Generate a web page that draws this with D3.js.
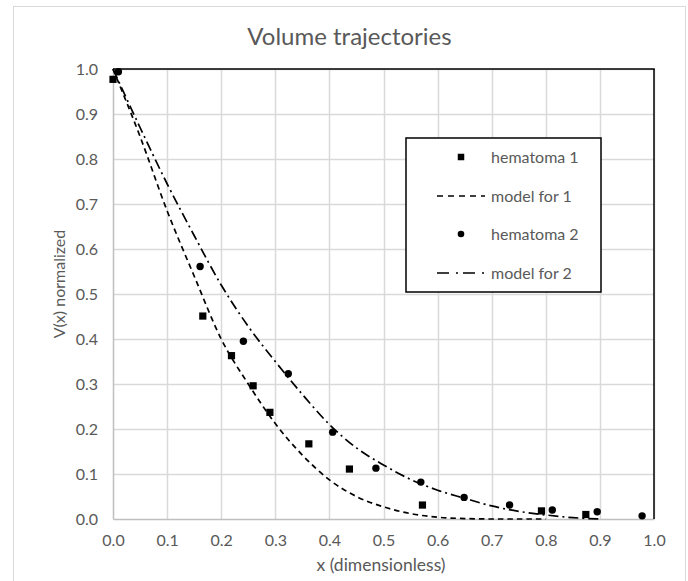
<!DOCTYPE html>
<html>
<head>
<meta charset="utf-8">
<script src="https://cdn.jsdelivr.net/npm/d3@7"></script>
<style>
  html, body { margin: 0; padding: 0; background: #ffffff; }
  svg { display: block; }
  text { font-family: Lato, "Open Sans", sans-serif; fill: #595959; }
</style>
</head>
<body>
<svg id="chart" width="688" height="581"></svg>
<script>
// ---- data ----
const chartTitle = "Volume trajectories";
const xAxisTitle = "x (dimensionless)";
const yAxisTitle = "V(x) normalized";
const xTicks = [0, 0.1, 0.2, 0.3, 0.4, 0.5, 0.6, 0.7, 0.8, 0.9, 1.0];
const yTicks = [0, 0.1, 0.2, 0.3, 0.4, 0.5, 0.6, 0.7, 0.8, 0.9, 1.0];

const hem1X = [0.000, 0.166, 0.219, 0.259, 0.290, 0.362, 0.437, 0.572, 0.792, 0.874];
const hem1Y = [0.977, 0.451, 0.363, 0.296, 0.237, 0.167, 0.111, 0.031, 0.018, 0.010];

const hem2X = [0.010, 0.161, 0.241, 0.324, 0.406, 0.486, 0.569, 0.649, 0.733, 0.812, 0.895, 0.978];
const hem2Y = [0.994, 0.561, 0.395, 0.323, 0.193, 0.113, 0.082, 0.048, 0.031, 0.020, 0.016, 0.007];

const model1X = [0.00, 0.05, 0.10, 0.15, 0.20, 0.25, 0.30, 0.35, 0.40, 0.45, 0.50, 0.55, 0.60, 0.65, 0.70, 0.75, 0.80];
const model1Y = [1.000, 0.850, 0.685, 0.540, 0.400, 0.300, 0.212, 0.142, 0.087, 0.050, 0.027, 0.012, 0.004, 0.001, 0.000, 0.000, 0.000];

const model2X = [0.00, 0.05, 0.10, 0.15, 0.20, 0.25, 0.30, 0.35, 0.40, 0.45, 0.50, 0.55, 0.60, 0.65, 0.70, 0.75, 0.80, 0.85, 0.90];
const model2Y = [1.000, 0.870, 0.745, 0.630, 0.520, 0.428, 0.350, 0.277, 0.210, 0.158, 0.120, 0.088, 0.064, 0.046, 0.029, 0.017, 0.009, 0.003, 0.000];

const legendLabels = ["hematoma 1", "model for 1", "hematoma 2", "model for 2"];

// ---- drawing ----
const svg = d3.select("#chart");
const plot = { left: 113, right: 654, top: 69, bottom: 519 };

const x = d3.scaleLinear().domain([0, 1]).range([plot.left, plot.right]);
const y = d3.scaleLinear().domain([0, 1]).range([plot.bottom, plot.top]);

// outer chart border
svg.append("rect")
  .attr("x", 13.5).attr("y", 6.5)
  .attr("width", 672).attr("height", 600)
  .attr("fill", "none").attr("stroke", "#d9d9d9").attr("stroke-width", 1);

// title
svg.append("text")
  .attr("x", 349.5).attr("y", 45)
  .attr("text-anchor", "middle")
  .style("font-size", "24px")
  .text(chartTitle);

// gridlines
const grid = svg.append("g");
grid.selectAll("line.v").data(xTicks.slice(1)).enter().append("line")
  .attr("x1", d => Math.round(x(d)) + 0.5).attr("x2", d => Math.round(x(d)) + 0.5)
  .attr("y1", plot.top).attr("y2", plot.bottom)
  .attr("stroke", "#d9d9d9").attr("stroke-width", 1.5);
grid.selectAll("line.h").data(yTicks.slice(1)).enter().append("line")
  .attr("x1", plot.left).attr("x2", plot.right)
  .attr("y1", d => Math.round(y(d)) + 0.5).attr("y2", d => Math.round(y(d)) + 0.5)
  .attr("stroke", "#d9d9d9").attr("stroke-width", 1.5);

// axes using d3 axis generators (no tick marks)
const xAxis = d3.axisBottom(x).tickValues(xTicks).tickFormat(d3.format(".1f")).tickSize(0).tickPadding(12);
const yAxis = d3.axisLeft(y).tickValues(yTicks).tickFormat(d3.format(".1f")).tickSize(0).tickPadding(15);

const gx = svg.append("g").attr("transform", `translate(0,${plot.bottom})`).call(xAxis);
gx.select(".domain").attr("stroke", "#bfbfbf").attr("stroke-width", 1.5);
gx.selectAll("text").style("font-size", "16px").attr("fill", "#595959").attr("dy", "0.95em");

const gy = svg.append("g").attr("transform", `translate(${plot.left},0)`).call(yAxis);
gy.select(".domain").attr("stroke", "#bfbfbf").attr("stroke-width", 1.5);
gy.selectAll("text").style("font-size", "16px").attr("fill", "#595959");

// plot border top and right (black)
svg.append("line").attr("x1", plot.left).attr("x2", plot.right + 0.75)
  .attr("y1", plot.top).attr("y2", plot.top).attr("stroke", "#000").attr("stroke-width", 1.5);
svg.append("line").attr("x1", plot.right).attr("x2", plot.right)
  .attr("y1", plot.top).attr("y2", plot.bottom).attr("stroke", "#000").attr("stroke-width", 1.5);

// axis titles
svg.append("text")
  .attr("x", 381).attr("y", 571)
  .attr("text-anchor", "middle")
  .style("font-size", "17.5px")
  .text(xAxisTitle);
svg.append("text")
  .attr("transform", "translate(65,284) rotate(-90)")
  .attr("text-anchor", "middle")
  .style("font-size", "16px")
  .text(yAxisTitle);

// model curves
const lineGen = d3.line().x(d => x(d[0])).y(d => y(d[1])).curve(d3.curveMonotoneX);
const model1 = model1X.map((v, i) => [v, model1Y[i]]);
const model2 = model2X.map((v, i) => [v, model2Y[i]]);

svg.append("path").datum(model1).attr("d", lineGen)
  .attr("fill", "none").attr("stroke", "#000").attr("stroke-width", 1.7)
  .attr("stroke-dasharray", "5.5,4");
svg.append("path").datum(model2).attr("d", lineGen)
  .attr("fill", "none").attr("stroke", "#000").attr("stroke-width", 1.7)
  .attr("stroke-dasharray", "10,4,2,4");

// markers
const sq = 7.2, cr = 3.7;
svg.append("g").selectAll("rect").data(hem1X.map((v, i) => [v, hem1Y[i]])).enter().append("rect")
  .attr("x", d => x(d[0]) - sq / 2).attr("y", d => y(d[1]) - sq / 2)
  .attr("width", sq).attr("height", sq).attr("fill", "#000");
svg.append("g").selectAll("circle").data(hem2X.map((v, i) => [v, hem2Y[i]])).enter().append("circle")
  .attr("cx", d => x(d[0])).attr("cy", d => y(d[1])).attr("r", cr).attr("fill", "#000");

// legend
const lg = svg.append("g");
lg.append("rect").attr("x", 406).attr("y", 138).attr("width", 195).attr("height", 154)
  .attr("fill", "#fff").attr("stroke", "#000").attr("stroke-width", 1.5);
const rowY = [157, 196, 234, 273];
legendLabels.forEach((lab, i) => {
  const cy = rowY[i];
  if (i === 0) {
    lg.append("rect").attr("x", 461 - 3.25).attr("y", cy - 3.25).attr("width", 6.5).attr("height", 6.5).attr("fill", "#000");
  } else if (i === 2) {
    lg.append("circle").attr("cx", 461).attr("cy", cy).attr("r", 3.3).attr("fill", "#000");
  } else {
    lg.append("line").attr("x1", 437).attr("x2", 485).attr("y1", cy).attr("y2", cy)
      .attr("stroke", "#000").attr("stroke-width", 1.6)
      .attr("stroke-dasharray", i === 1 ? "6,5" : "12,7,2,5");
  }
  lg.append("text").attr("x", 491).attr("y", cy).attr("dy", "0.35em")
    .style("font-size", "16px").text(lab);
});
</script>
</body>
</html>
